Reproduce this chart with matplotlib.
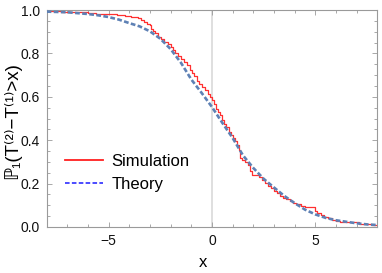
import matplotlib.pyplot as plt
from matplotlib.lines import Line2D
from matplotlib.ticker import MultipleLocator

plt.rcParams['font.family'] = ['Liberation Sans', 'DejaVu Sans']

# theory curve
theory_x = [-8, -7, -6, -5.5, -5, -4.5, -4, -3.5, -3, -2.5, -2, -1.5, -1, -0.5, 0,
            0.5, 1, 1.5, 2, 2.5, 3, 3.5, 4, 4.5, 5, 5.5, 6, 6.5, 7, 7.5, 8]
theory_y = [0.993, 0.99, 0.982, 0.976, 0.968, 0.956, 0.94, 0.925, 0.902, 0.868, 0.82,
            0.757, 0.68, 0.618, 0.553, 0.48, 0.41, 0.33, 0.272, 0.222, 0.182, 0.143,
            0.11, 0.08, 0.058, 0.042, 0.031, 0.024, 0.017, 0.012, 0.009]

# simulation (empirical, step-like)
sim_x = [-8.0, -7.3, -6.6, -6.0, -5.6, -5.1, -4.6, -4.2, -3.9, -3.6, -3.45, -3.3, -3.15,
         -3.0, -2.95, -2.85, -2.75, -2.6, -2.45, -2.3, -2.15, -2.0, -1.9, -1.8, -1.65,
         -1.5, -1.35, -1.2, -1.05, -0.95, -0.85, -0.75, -0.65, -0.5, -0.35, -0.2, -0.1,
         0.0, 0.1, 0.2, 0.3, 0.4, 0.5, 0.6, 0.7, 0.8, 0.9, 1.0, 1.1, 1.2, 1.3, 1.35,
         1.45, 1.6, 1.75, 1.85, 1.95, 2.25, 2.4, 2.55, 2.7, 2.85, 3.0, 3.15, 3.3, 3.45,
         3.6, 3.75, 3.9, 4.05, 4.3, 4.5, 5.0, 5.1, 5.25, 5.4, 5.6, 5.8, 6.0, 6.2, 6.8,
         7.1, 7.4, 7.7, 8.0]
sim_y = [0.995, 0.993, 0.99, 0.988, 0.984, 0.98, 0.977, 0.972, 0.968, 0.962, 0.955, 0.945,
         0.937, 0.93, 0.915, 0.905, 0.895, 0.878, 0.865, 0.855, 0.842, 0.83, 0.815, 0.80,
         0.79, 0.775, 0.762, 0.745, 0.725, 0.71, 0.695, 0.675, 0.66, 0.645, 0.63, 0.615,
         0.60, 0.585, 0.565, 0.545, 0.53, 0.515, 0.495, 0.475, 0.46, 0.44, 0.425, 0.41,
         0.395, 0.38, 0.355, 0.32, 0.31, 0.30, 0.285, 0.26, 0.24, 0.23, 0.215, 0.205,
         0.19, 0.18, 0.165, 0.155, 0.145, 0.135, 0.128, 0.118, 0.11, 0.104, 0.098, 0.094,
         0.075, 0.065, 0.055, 0.048, 0.04, 0.034, 0.029, 0.025, 0.021, 0.016, 0.013,
         0.010, 0.008]

fig = plt.figure(figsize=(3.82, 2.73), dpi=100)
ax = fig.add_axes([0.122, 0.1685, 0.866, 0.7945])

ax.axvline(0, color='#d9d9d9', lw=1.2, zorder=1)
ax.plot(sim_x, sim_y, drawstyle='steps-post', color='#ff3030', lw=0.9, zorder=2)
ax.plot(theory_x, theory_y, color='#5e81b5', lw=1.9, dashes=(1.8, 0.9), zorder=3)

ax.set_xlim(-8, 8)
ax.set_ylim(0, 1)
ax.xaxis.set_minor_locator(MultipleLocator(1))
ax.yaxis.set_minor_locator(MultipleLocator(0.05))
ax.set_yticks([0, 0.2, 0.4, 0.6, 0.8, 1.0])
ax.set_yticklabels(['0.0', '0.2', '0.4', '0.6', '0.8', '1.0'])
ax.set_xticks([-5, 0, 5])
ax.set_xticklabels(['\u22125', '0', '5'])

ax.tick_params(which='both', direction='in', top=True, right=True,
               color='#9a9a9a', width=0.6, labelsize=10, labelcolor='#111111', pad=5)
ax.tick_params(which='major', length=3.5)
ax.tick_params(which='minor', length=2)
for s in ax.spines.values():
    s.set_color('#9a9a9a')
    s.set_linewidth(0.8)

ax.set_xlabel('x', fontsize=12)
ax.xaxis.set_label_coords(0.473, -0.13)
ax.set_ylabel('\u2119\u2081(T\u207d\u00b2\u207e\u2212T\u207d\u00b9\u207e>x)', fontsize=13.5)
ax.yaxis.set_label_coords(-0.078, 0.49)

handles = [Line2D([], [], color='#ff2020', lw=1.3),
           Line2D([], [], color='#1a1aff', lw=1.1, dashes=(3, 1.5))]
ax.legend(handles, ['Simulation', 'Theory'], loc='center left',
          bbox_to_anchor=(0.055, 0.249), frameon=False, fontsize=12,
          borderpad=0, borderaxespad=0, handlelength=2.3, handletextpad=0.5,
          labelspacing=0.5)

fig.savefig('out.png', dpi=100)
